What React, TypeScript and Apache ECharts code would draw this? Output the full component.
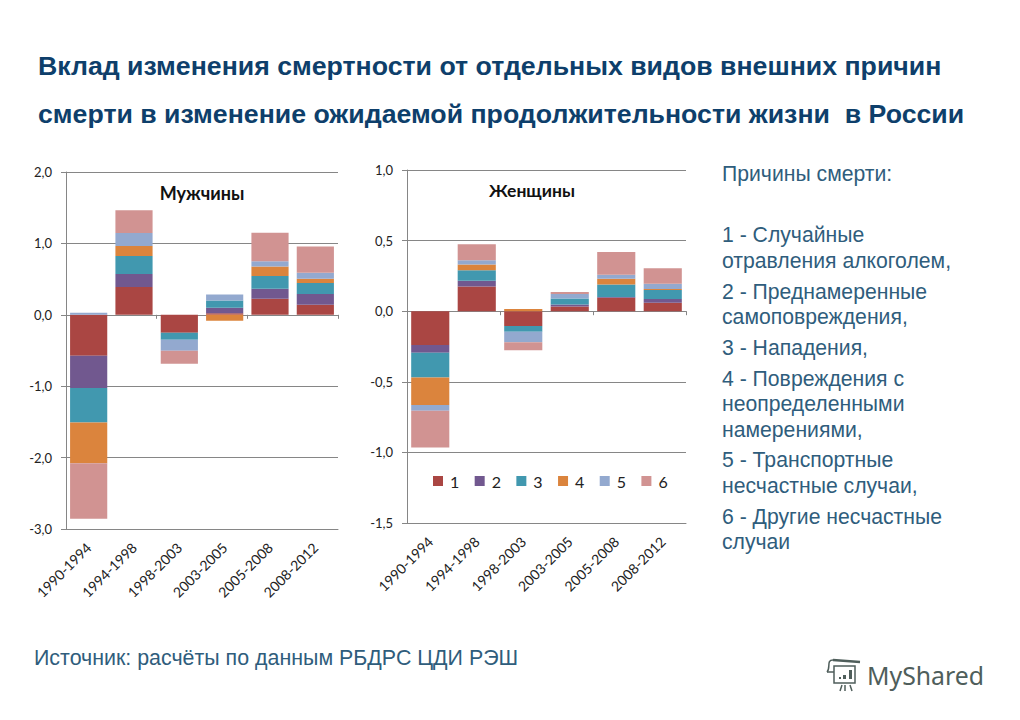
import React, { useEffect, useRef } from "react";
import * as echarts from "echarts";

const periods = ["1990-1994", "1994-1998", "1998-2003", "2003-2005", "2005-2008", "2008-2012"];
const causeNames = ["1", "2", "3", "4", "5", "6"];
const causeColors = ["#aa4643", "#71588f", "#4198af", "#db843d", "#93a9cf", "#d19392"];

const men1 = [-0.575, 0.39, -0.25, 0.02, 0.225, 0.14];
const men2 = [-0.45, 0.18, 0, 0.08, 0.14, 0.15];
const men3 = [-0.485, 0.255, -0.1, 0.1, 0.18, 0.155];
const men4 = [-0.57, 0.14, 0, -0.085, 0.13, 0.06];
const men5 = [0.03, 0.18, -0.155, 0.085, 0.075, 0.085];
const men6 = [-0.775, 0.32, -0.18, 0, 0.4, 0.365];

const women1 = [-0.24, 0.175, -0.105, 0.033, 0.096, 0.06];
const women2 = [-0.055, 0.04, 0, 0.014, 0.005, 0.027];
const women3 = [-0.175, 0.075, -0.04, 0.043, 0.088, 0.063];
const women4 = [-0.195, 0.04, 0.015, 0, 0.04, 0.007];
const women5 = [-0.04, 0.03, -0.075, 0.032, 0.03, 0.038];
const women6 = [-0.26, 0.115, -0.057, 0.014, 0.16, 0.11];

const titleLines = [
  "Вклад изменения смертности от отдельных видов внешних причин",
  "смерти в изменение ожидаемой продолжительности жизни  в России",
];
const causeLines: [string, number][] = [
  ["Причины смерти:", 173],
  ["1 - Случайные", 234],
  ["отравления алкоголем,", 260],
  ["2 - Преднамеренные", 291],
  ["самоповреждения,", 316],
  ["3 - Нападения,", 347],
  ["4 - Повреждения с", 378],
  ["неопределенными", 403],
  ["намерениями,", 429],
  ["5 - Транспортные", 459],
  ["несчастные случаи,", 485],
  ["6 - Другие несчастные", 516],
  ["случаи", 541],
];
const sourceText = "Источник: расчёты по данным РБДРС ЦДИ РЭШ";

const lineColor = "#868686";
const logoColor = "#4f5e5b";
const axisFont = "Lato, Carlito, 'Noto Sans', sans-serif";
const fmt = (v: number) => v.toFixed(1).replace(".", ",");

function xPair(gridIndex: number) {
  return [
    {
      type: "category", gridIndex, data: periods, position: "bottom",
      axisLine: { onZero: false, lineStyle: { color: lineColor } },
      axisTick: { show: false },
      axisLabel: { rotate: 45, margin: 16, fontSize: 14, color: "#222", fontFamily: axisFont, interval: 0 },
    },
    {
      type: "category", gridIndex, data: periods, position: "bottom",
      axisLine: { onZero: true, lineStyle: { color: lineColor } },
      axisTick: { show: true, length: 4, alignWithLabel: false, lineStyle: { color: lineColor } },
      axisLabel: { show: false },
    },
  ];
}

function yAxis(gridIndex: number, min: number, max: number, interval: number) {
  return {
    type: "value", gridIndex, min, max, interval,
    axisLine: { show: true, lineStyle: { color: lineColor } },
    axisTick: { show: true, length: 5, lineStyle: { color: lineColor } },
    axisLabel: { formatter: fmt, fontSize: 13, color: "#222", margin: 14, fontFamily: axisFont },
    splitLine: { show: true, lineStyle: { color: lineColor, width: 1 } },
  };
}

function barSeries(values: number[][], xAxisIndex: number, yAxisIndex: number, stack: string) {
  return values.map((data, i) => ({
    type: "bar", name: causeNames[i], data, xAxisIndex, yAxisIndex, stack,
    barCategoryGap: "18%",
    itemStyle: { color: causeColors[i] },
    emphasis: { disabled: true },
  }));
}

const arialText = (text: string, x: number, y: number, fontSize: number, fill: string, fontWeight = "normal") => ({
  type: "text", x, y,
  style: { text, fontSize, fill, fontWeight, fontFamily: "'Liberation Sans', Arial, sans-serif", textVerticalAlign: "middle", textAlign: "left" },
});

const logoLine = (x1: number, y1: number, x2: number, y2: number, lineWidth = 1.5) => ({
  type: "line", shape: { x1, y1, x2, y2 }, style: { stroke: logoColor, lineWidth },
});

export default function App() {
  const ref = useRef<HTMLDivElement>(null);
  useEffect(() => {
    document.body.style.margin = "0";
    document.body.style.background = "#fff";
    const chart = echarts.init(ref.current!, undefined, { renderer: "svg" });
    const option = {
      animation: false,
      backgroundColor: "#ffffff",
      grid: [
        { left: 66, top: 172, width: 272, height: 357 },
        { left: 407, top: 170, width: 279, height: 353 },
      ],
      xAxis: [...xPair(0), ...xPair(1)],
      yAxis: [yAxis(0, -3, 2, 1), yAxis(1, -1.5, 1, 0.5)],
      legend: {
        data: causeNames, left: 433, top: 473, itemWidth: 10, itemHeight: 10, itemGap: 15.4,
        icon: "rect", selectedMode: false, padding: 0,
        textStyle: { fontSize: 16, color: "#222", fontFamily: axisFont, padding: [0, 0, 0, 2] },
      },
      series: [
        ...barSeries([men1, men2, men3, men4, men5, men6], 0, 0, "men"),
        ...barSeries([women1, women2, women3, women4, women5, women6], 2, 1, "women"),
      ],
      graphic: [
        arialText(titleLines[0], 38, 66, 26.7, "#0e3f6b", "bold"),
        arialText(titleLines[1], 38, 114, 26.7, "#0e3f6b", "bold"),
        ...causeLines.map(([t, y]) => arialText(t, 722, y, 21.2, "#2f5d7c")),
        arialText(sourceText, 34, 658, 21.4, "#2f5d7c"),
        {
          type: "text", x: 202, y: 193,
          style: { text: "Мужчины", fontSize: 18, fontWeight: "bold", fill: "#111", fontFamily: axisFont, textAlign: "center", textVerticalAlign: "middle" },
        },
        {
          type: "text", x: 532, y: 190,
          style: { text: "Женщины", fontSize: 17.5, fontWeight: "bold", fill: "#111", fontFamily: axisFont, textAlign: "center", textVerticalAlign: "middle" },
        },
        { type: "rect", shape: { x: 834, y: 666, width: 21, height: 17 }, style: { fill: "none", stroke: logoColor, lineWidth: 1.5 } },
        logoLine(833, 660, 860, 662, 2.5),
        { type: "bezierCurve", shape: { x1: 833, y1: 660, cpx1: 826, cpy1: 660, cpx2: 831, cpy2: 668, x2: 827, y2: 672 }, style: { stroke: logoColor, lineWidth: 1.5, fill: "none" } },
        logoLine(827, 672, 834, 672),
        { type: "rect", shape: { x: 839, y: 677, width: 2, height: 2 }, style: { fill: logoColor } },
        { type: "rect", shape: { x: 843, y: 675, width: 3, height: 4 }, style: { fill: logoColor } },
        { type: "rect", shape: { x: 849, y: 670, width: 3, height: 9 }, style: { fill: logoColor } },
        logoLine(842, 685, 840, 691),
        logoLine(845, 685, 845, 691),
        logoLine(850, 685, 852, 691),
        {
          type: "text", x: 867, y: 675,
          style: { text: "MyShared", fontSize: 24.8, fill: logoColor, fontFamily: "'Noto Sans', sans-serif", textVerticalAlign: "middle", textAlign: "left" },
        },
      ],
    };
    chart.setOption(option as any);
    return () => chart.dispose();
  }, []);
  return <div ref={ref} style={{ width: 1020, height: 720 }} />;
}
